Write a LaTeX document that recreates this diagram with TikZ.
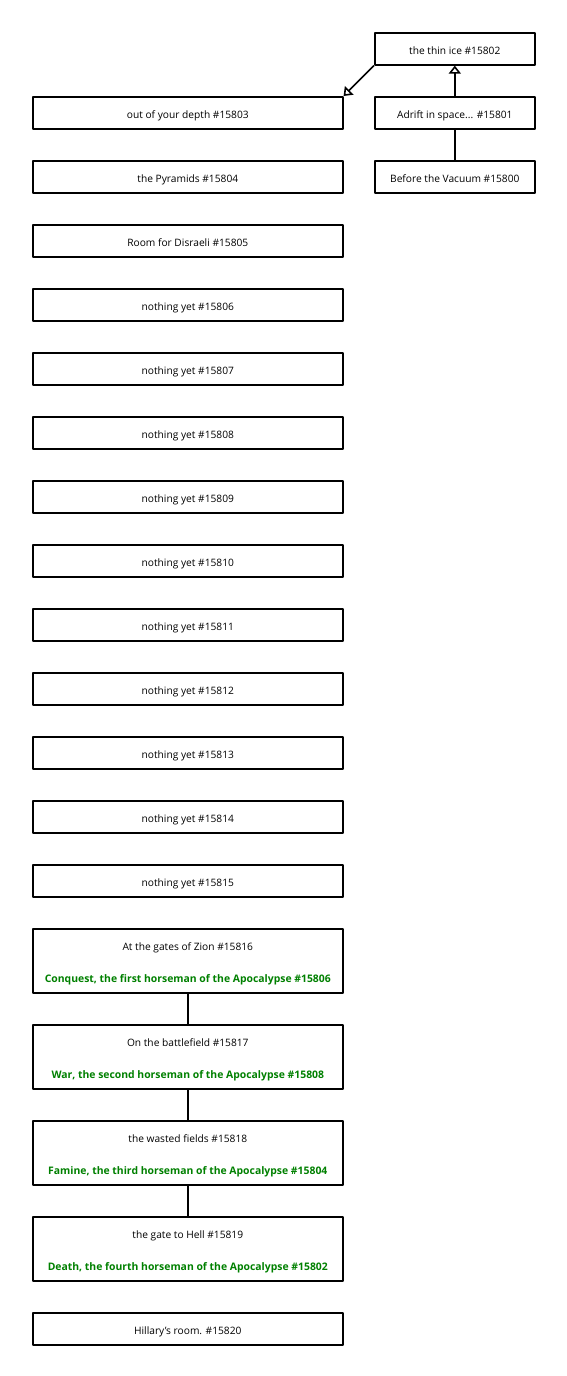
\documentclass[tikz,border=0pt]{standalone}
\usepackage{fontspec}
\setmainfont{Open Sans}
\usetikzlibrary{arrows.meta}
\definecolor{notegreen}{RGB}{0,128,0}
\newcommand{\horseman}[1]{\textcolor{notegreen}{\fontsize{10.4}{13}\selectfont\bfseries #1}}
\begin{document}
\begin{tikzpicture}[x=1pt,y=-1pt,line join=round,font=\fontsize{10.2}{13}\selectfont,
	room/.style={draw,line width=1.6pt,anchor=north west,inner sep=0pt,minimum width=310pt,minimum height=32pt,text height=12pt,text depth=0pt},
	smallroom/.style={room,minimum width=160pt},
	bigroom/.style={room,minimum height=64pt,align=center,text height=44pt,text depth=0pt},
	inherit/.style={-{Triangle[open,length=8pt,width=12pt]},line width=1.6pt}]
	\useasboundingbox (0,0) rectangle (566,1376);
	% right column
	\node[smallroom] (r15802) at (374,32) {the thin ice \#15802};
	\node[smallroom] (r15801) at (374,96) {Adrift in space... \#15801};
	\node[smallroom] (r15800) at (374,160) {Before the Vacuum \#15800};
	% left column
	\node[room] (r15803) at (32,96) {out of your depth \#15803};
	\node[room] (r15804) at (32,160) {the Pyramids \#15804};
	\node[room] (r15805) at (32,224) {Room for Disraeli \#15805};
	\foreach \k [evaluate=\k as \y using 96+(\k-15803)*64] in {15806,...,15815}
		\node[room] (r\k) at (32,\y) {nothing yet \#\k};
	\node[bigroom] (r15816) at (32,928) {At the gates of Zion \#15816\\[19pt]\horseman{Conquest, the first horseman of the Apocalypse \#15806}};
	\node[bigroom] (r15817) at (32,1024) {On the battlefield \#15817\\[19pt]\horseman{War, the second horseman of the Apocalypse \#15808}};
	\node[bigroom] (r15818) at (32,1120) {the wasted fields \#15818\\[19pt]\horseman{Famine, the third horseman of the Apocalypse \#15804}};
	\node[bigroom] (r15819) at (32,1216) {the gate to Hell \#15819\\[19pt]\horseman{Death, the fourth horseman of the Apocalypse \#15802}};
	\node[room] (r15820) at (32,1312) {Hillary's room. \#15820};
	% connectors
	\draw[inherit] (r15802.south west) -- (r15803.north east);
	\draw[inherit] (r15801.north) -- (r15802.south);
	\draw[line width=1.6pt] (r15800.north) -- (r15801.south);
	\draw[line width=1.6pt] (r15816.south) -- (r15817.north);
	\draw[line width=1.6pt] (r15817.south) -- (r15818.north);
	\draw[line width=1.6pt] (r15818.south) -- (r15819.north);
\end{tikzpicture}
\end{document}
